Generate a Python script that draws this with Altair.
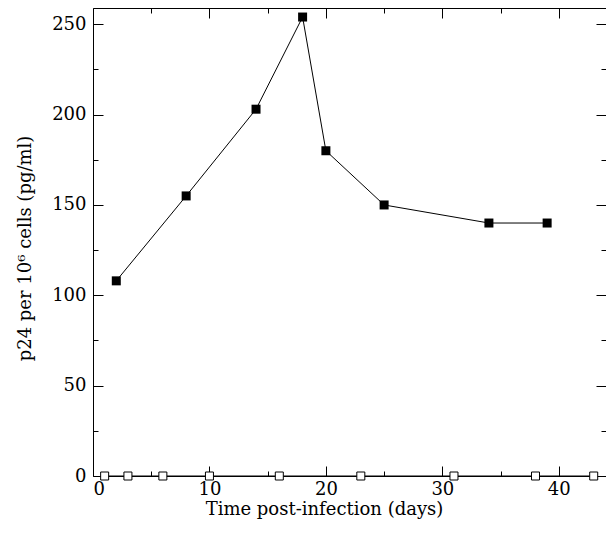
import altair as alt
import pandas as pd

# Infected cultures (filled squares)
inf_days = [2, 8, 14, 18, 20, 25, 34, 39]
inf_p24 = [108, 155, 203, 254, 180, 150, 140, 140]
# Control cultures (open squares)
ctl_days = [1, 3, 6, 10, 16, 23, 31, 38, 43]
ctl_p24 = [0, 0, 0, 0, 0, 0, 0, 0, 0]

x_major = [0, 10, 20, 30, 40]
x_minor = [5, 15, 25, 35]
y_major = [0, 50, 100, 150, 200, 250]
y_minor = [25, 75, 125, 175, 225]

df = pd.DataFrame({
    "day": inf_days + ctl_days,
    "p24": inf_p24 + ctl_p24,
    "series": ["infected"] * len(inf_days) + ["control"] * len(ctl_days),
})

FONT = "DejaVu Serif"
# the frame runs slightly past the right edge of the page, as in the original
xs = alt.Scale(domain=[0, 45], nice=False, zero=False, range=[0, 524])
ys = alt.Scale(domain=[0, 259], nice=False)

def ax(orient, values, size, labels=False, title=None, domain=False, **kw):
    d = dict(orient=orient, values=values, tickSize={"expr": str(-size)},
             domain=domain, domainColor="black", domainWidth=1,
             grid=False, labels=labels, tickColor="black", tickWidth=1)
    d["title"] = title if title is not None else None
    d.update(kw)
    return alt.Axis(**d)

base = alt.Chart(df)

main = base.mark_line(color="black", strokeWidth=1).encode(
    x=alt.X("day:Q", scale=xs,
            axis=ax("bottom", x_major, 10, labels=True, domain=True,
                    title="Time post-infection (days)",
                    labelPadding=14, labelFont=FONT, labelFontSize=18,
                    labelColor="black", titleFont=FONT, titleFontSize=18,
                    titleFontWeight="normal", titleColor="black",
                    titleX=231, titleY=38, titleAlign="center",
                    titleBaseline="alphabetic")),
    y=alt.Y("p24:Q", scale=ys,
            axis=ax("left", y_major, 10, labels=True, domain=True,
                    title="p24 per 10⁶ cells (pg/ml)",
                    labelPadding=17, labelFont=FONT, labelFontSize=18,
                    labelColor="black", titleFont=FONT, titleFontSize=18,
                    titleFontWeight="normal", titleColor="black",
                    titleX=-63, titleY=240, titleAlign="center",
                    titleBaseline="alphabetic", titleAngle=270)),
    detail="series:N",
)

def ghost(xaxis, yaxis):
    return base.mark_point(opacity=0).encode(
        x=alt.X("day:Q", scale=xs, axis=xaxis),
        y=alt.Y("p24:Q", scale=ys, axis=yaxis),
    )

l_minor = ghost(ax("bottom", x_minor, 5), ax("left", y_minor, 5))
l_opp_major = ghost(ax("top", x_major, 10, domain=True), ax("right", y_major, 10))
l_opp_minor = ghost(ax("top", x_minor, 5), ax("right", y_minor, 5))

filled = base.transform_filter(alt.datum.series == "infected").mark_point(
    shape="square", filled=True, color="black", size=81, opacity=1
).encode(
    x=alt.X("day:Q", scale=xs, axis=None),
    y=alt.Y("p24:Q", scale=ys, axis=None),
)

openp = base.transform_filter(alt.datum.series == "control").mark_point(
    shape="square", filled=True, fill="white", stroke="black",
    strokeWidth=1, size=64, opacity=1
).encode(
    x=alt.X("day:Q", scale=xs, axis=None),
    y=alt.Y("p24:Q", scale=ys, axis=None),
)

chart = alt.layer(main, l_minor, l_opp_major, l_opp_minor, filled, openp).resolve_axis(
    x="independent", y="independent"
).properties(
    width=513, height=468,
    autosize=alt.AutoSizeParams(type="none"),
    padding={"left": 85, "top": 0, "right": 0, "bottom": 44},
).configure_view(stroke=None)

chart.save("out.html", embed_options={"renderer": "svg", "actions": False})
